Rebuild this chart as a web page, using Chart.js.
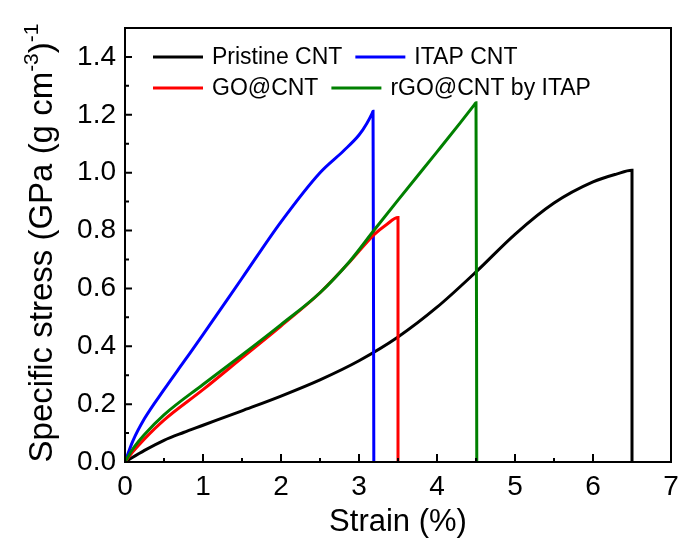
<!DOCTYPE html>
<html>
<head>
<meta charset="utf-8">
<script src="https://cdn.jsdelivr.net/npm/chart.js@4.4.1/dist/chart.umd.min.js"></script>
<style>
  html, body { margin: 0; padding: 0; background: #ffffff; }
  #c { display: block; }
</style>
</head>
<body>
<canvas id="c" width="678" height="546"></canvas>
<script>
// Tensile curves: specific stress vs strain for four CNT fibres
const seriesNames = ['Pristine CNT', 'ITAP CNT', 'GO@CNT', 'rGO@CNT by ITAP'];
const seriesColors = ['#000000', '#0000ff', '#ff0000', '#008000'];

const strainPristine = [0, 0.25, 0.5, 0.75, 1, 1.5, 2, 2.5, 3, 3.5, 4, 4.5, 5, 5.5, 6, 6.3, 6.5, 6.5];
const stressPristine = [0, 0.04, 0.075, 0.102, 0.127, 0.177, 0.228, 0.284, 0.35, 0.432, 0.535, 0.657, 0.787, 0.895, 0.968, 0.995, 1.008, 0];

const strainITAP = [0, 0.1, 0.25, 0.5, 0.75, 1, 1.5, 2, 2.5, 2.8, 3.0, 3.1, 3.17, 3.18, 3.19];
const stressITAP = [0, 0.072, 0.15, 0.25, 0.345, 0.44, 0.635, 0.83, 1.0, 1.075, 1.13, 1.17, 1.206, 1.212, 0];

const strainGO = [0, 0.1, 0.25, 0.5, 1, 1.5, 2, 2.5, 2.885, 3.19, 3.35, 3.5, 3.5];
const stressGO = [0, 0.035, 0.08, 0.145, 0.25, 0.36, 0.47, 0.585, 0.693, 0.785, 0.82, 0.845, 0];

const strainRGO = [0, 0.1, 0.25, 0.5, 1, 1.5, 2, 2.5, 2.885, 3.19, 3.5, 4, 4.3, 4.48, 4.5, 4.51];
const stressRGO = [0, 0.045, 0.095, 0.163, 0.268, 0.37, 0.475, 0.585, 0.695, 0.8, 0.905, 1.072, 1.173, 1.235, 1.242, 0];

const xTickValues = [0, 1, 2, 3, 4, 5, 6, 7];
const yTickValues = [0, 0.2, 0.4, 0.6, 0.8, 1.0, 1.2, 1.4];
const xMinorValues = [0.5, 1.5, 2.5, 3.5, 4.5, 5.5, 6.5];
const yMinorValues = [0.1, 0.3, 0.5, 0.7, 0.9, 1.1, 1.3];

const xTitle = 'Strain (%)';
const yTitleParts = [
  { text: 'Specific stress (GPa (g cm', sup: false },
  { text: '-3', sup: true },
  { text: ')', sup: false },
  { text: '-1', sup: true }
];

const FONT = '"Liberation Sans", Arial, Helvetica, sans-serif';

function toPoints(xs, ys) {
  return xs.map((x, i) => ({ x: x, y: ys[i] }));
}

const curves = [
  toPoints(strainPristine, stressPristine),
  toPoints(strainITAP, stressITAP),
  toPoints(strainGO, stressGO),
  toPoints(strainRGO, stressRGO)
];

// later series sit on top
const drawOrder = [3, 2, 1, 0];

const datasets = curves.map((pts, i) => ({
  label: seriesNames[i],
  data: pts,
  showLine: true,
  borderColor: seriesColors[i],
  backgroundColor: seriesColors[i],
  borderWidth: 3,
  pointRadius: 0,
  pointHoverRadius: 0,
  cubicInterpolationMode: 'monotone',
  fill: false,
  order: drawOrder[i]
}));

// Frame with inward major / minor ticks
const framePlugin = {
  id: 'frameTicks',
  afterDatasetsDraw(chart) {
    const { ctx, chartArea: a, scales } = chart;
    const xs = scales.x, ys = scales.y;
    ctx.save();
    ctx.strokeStyle = '#000';
    ctx.lineWidth = 2;
    ctx.lineCap = 'butt';
    ctx.beginPath();
    xTickValues.forEach(v => {
      const px = xs.getPixelForValue(v);
      ctx.moveTo(px, a.bottom); ctx.lineTo(px, a.bottom - 8);
    });
    xMinorValues.forEach(v => {
      const px = xs.getPixelForValue(v);
      ctx.moveTo(px, a.bottom); ctx.lineTo(px, a.bottom - 4);
    });
    yTickValues.forEach(v => {
      const py = ys.getPixelForValue(v);
      ctx.moveTo(a.left, py); ctx.lineTo(a.left + 7, py);
    });
    yMinorValues.forEach(v => {
      const py = ys.getPixelForValue(v);
      ctx.moveTo(a.left, py); ctx.lineTo(a.left + 4, py);
    });
    ctx.stroke();
    ctx.strokeRect(a.left, a.top, a.right - a.left, a.bottom - a.top);
    ctx.restore();
  }
};

// Two-row legend inside the plot frame
const legendPlugin = {
  id: 'innerLegend',
  afterDraw(chart) {
    const { ctx } = chart;
    const ds = chart.data.datasets;
    const rows = [[0, 1], [2, 3]];
    const rowY = [57, 88];
    const startX = 153, lineLen = 50, gapText = 9, gapItem = 13;
    ctx.save();
    ctx.font = '23px ' + FONT;
    ctx.textBaseline = 'middle';
    ctx.textAlign = 'left';
    rows.forEach((row, r) => {
      let x = startX;
      const y = rowY[r];
      row.forEach(i => {
        ctx.strokeStyle = ds[i].borderColor;
        ctx.lineWidth = 3;
        ctx.beginPath();
        ctx.moveTo(x, y); ctx.lineTo(x + lineLen, y);
        ctx.stroke();
        x += lineLen + gapText;
        ctx.fillStyle = '#000';
        ctx.fillText(ds[i].label, x, y + 1);
        x += ctx.measureText(ds[i].label).width + gapItem;
      });
    });
    ctx.restore();
  }
};

// Rotated y-axis title with superscripts
const yTitlePlugin = {
  id: 'yTitle',
  afterDraw(chart) {
    const { ctx, chartArea: a } = chart;
    const mainFont = '33px ' + FONT;
    const supFont = '21px ' + FONT;
    ctx.save();
    let total = 0;
    const widths = yTitleParts.map(p => {
      ctx.font = p.sup ? supFont : mainFont;
      const w = ctx.measureText(p.text).width;
      total += w;
      return w;
    });
    ctx.translate(40, (a.top + a.bottom) / 2 - 2);
    ctx.rotate(-Math.PI / 2);
    ctx.fillStyle = '#000';
    ctx.textBaseline = 'alphabetic';
    ctx.textAlign = 'left';
    let x = -total / 2;
    const base = 12;
    yTitleParts.forEach((p, i) => {
      ctx.font = p.sup ? supFont : mainFont;
      ctx.fillText(p.text, x, p.sup ? base - 14 : base);
      x += widths[i];
    });
    ctx.restore();
  }
};

new Chart(document.getElementById('c'), {
  type: 'scatter',
  data: { datasets: datasets },
  options: {
    responsive: false,
    animation: false,
    devicePixelRatio: 1,
    layout: { padding: { left: 0, right: 7, top: 28, bottom: 0 } },
    plugins: {
      legend: { display: false },
      tooltip: { enabled: false }
    },
    scales: {
      x: {
        type: 'linear',
        min: 0,
        max: 7,
        afterBuildTicks(scale) { scale.ticks = xTickValues.map(v => ({ value: v })); },
        afterFit(scale) {
          scale.height = 84;
          scale.paddingLeft = 0;
          scale.paddingRight = 0;
        },
        grid: { display: false, drawTicks: false },
        border: { display: false },
        ticks: {
          padding: 8,
          color: '#000',
          font: { family: FONT, size: 28 },
          maxRotation: 0,
          callback: v => String(v)
        },
        title: {
          display: true,
          text: xTitle,
          color: '#000',
          font: { family: FONT, size: 31 },
          padding: { top: 0, bottom: 5 }
        }
      },
      y: {
        type: 'linear',
        min: 0,
        max: 1.5,
        afterBuildTicks(scale) { scale.ticks = yTickValues.map(v => ({ value: v })); },
        afterFit(scale) {
          scale.width = 125;
          scale.paddingTop = 0;
          scale.paddingBottom = 0;
        },
        grid: { display: false, drawTicks: false },
        border: { display: false },
        ticks: {
          padding: 9,
          color: '#000',
          font: { family: FONT, size: 28 },
          callback: v => Number(v).toFixed(1)
        }
      }
    }
  },
  plugins: [framePlugin, legendPlugin, yTitlePlugin]
});
</script>
</body>
</html>
